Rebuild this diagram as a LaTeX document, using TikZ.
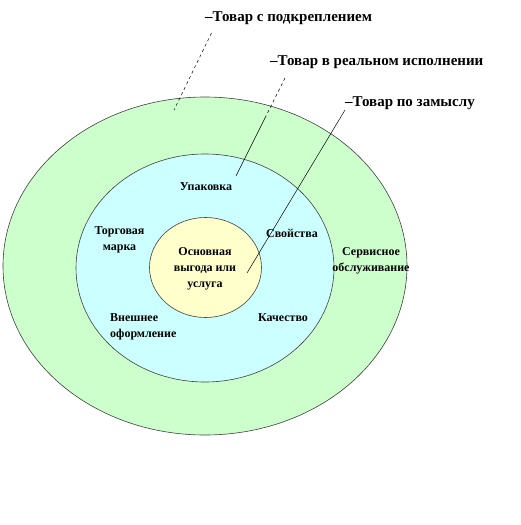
\documentclass[tikz,border=0pt]{standalone}
\usepackage{fontspec}
\setmainfont{Liberation Serif}
\usetikzlibrary{shapes.geometric}
\definecolor{ringgreen}{HTML}{CCFFCC}
\definecolor{ringcyan}{HTML}{CCFFFF}
\definecolor{ringyellow}{HTML}{FFFFCC}
\tikzset{
  ring/.style={ellipse, draw=black!75, line width=0.6pt, inner sep=0pt},
  lbl/.style={font=\bfseries\fontsize{12}{16}\selectfont, align=center, inner sep=0pt},
  toplbl/.style={font=\bfseries\fontsize{15}{17}\selectfont, anchor=west, inner sep=0pt},
  leader/.style={draw=black, line width=0.5pt}
}
\begin{document}
\begin{tikzpicture}[x=1pt,y=-1pt]
\useasboundingbox (0,0) rectangle (520,525);
\node[ring, fill=ringgreen, minimum width=404pt, minimum height=338pt] (outer) at (205,266) {};
\node[ring, fill=ringcyan, minimum width=258pt, minimum height=228pt] (middle) at (205,268) {};
\node[ring, fill=ringyellow, minimum width=112pt, minimum height=100pt] (inner) at (205.5,267.5) {};

\node[lbl] (upak) at (206,187) {Упаковка};
\node[lbl] (torg) at (119.5,240) {Торговая\\марка};
\node[lbl] (svoj) at (292,233) {Свойства};
\node[lbl] (osn) at (205,269) {Основная\\выгода или\\услуга};
\node[lbl] (serv) at (371,261) {Сервисное\\обслуживание};
\node[lbl, align=left, anchor=west] (vnesh) at (110,326.5) {Внешнее\\оформление};
\node[lbl] (kach) at (283,318) {Качество};

\node[toplbl] (t1) at (205,18) {–Товар с подкреплением};
\node[toplbl] (t2) at (270,62) {–Товар в реальном исполнении};
\node[toplbl] (t3) at (345,103) {–Товар по замыслу};

\coordinate (a1) at (211.5,33);
\coordinate (b1) at (174,110);
\coordinate (a2) at (285,78);
\coordinate (m2) at (265,118);
\coordinate (b2) at (236,176);
\coordinate (a3) at (345,110);
\coordinate (b3) at (247,273);

\draw[leader, dashed] (a1) -- (b1);
\draw[leader, dashed] (a2) -- (m2);
\draw[leader] (m2) -- (b2);
\draw[leader] (a3) -- (b3);
\end{tikzpicture}
\end{document}
